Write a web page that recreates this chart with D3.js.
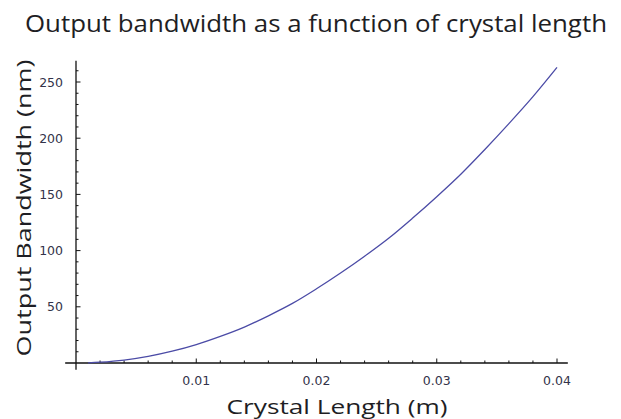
<!DOCTYPE html>
<html lang="en">
<head>
<meta charset="UTF-8">
<title>Output bandwidth as a function of crystal length</title>
<script src="https://d3js.org/d3.v7.min.js"></script>
<style>
    body, html { margin: 0; background: #fff; }
    text { font-family: 'Open Sans', sans-serif; fill: #1e1e24; }
    .tick-label { font-family: 'DejaVu Sans', sans-serif; font-size: 12.5px; fill: #33334a; }
</style>
</head>
<body>
<svg id="chart" width="621" height="419"></svg>
<script>
    // values
    const crystalLength = [0.001, 0.002, 0.004, 0.006, 0.008, 0.010, 0.012, 0.014, 0.016, 0.018, 0.020,
                           0.022, 0.024, 0.026, 0.028, 0.030, 0.032, 0.034, 0.036, 0.038, 0.040];
    const bandwidth = [0.2, 0.7, 2.6, 5.9, 10.5, 16.4, 23.7, 32, 42, 53, 66,
                       80, 95, 111, 129, 148, 168, 190, 213, 237, 263];
    const xTicks = [0.01, 0.02, 0.03, 0.04];
    const yTicks = [50, 100, 150, 200, 250];

    const svg = d3.select("#chart");

    // pixel frame: x=0 at 76px, 0.04 at 557px; y=0 at 363px, 250 at 82px
    const x = d3.scaleLinear().domain([0, 0.04]).range([76, 557]);
    const y = d3.scaleLinear().domain([0, 250]).range([363, 82]);

    const xMinor = d3.range(0.002, 0.0401, 0.002).filter(v => Math.abs(v * 100 - Math.round(v * 100)) > 1e-6);
    const yMinor = d3.range(10, 261, 10).filter(v => v % 50 !== 0);

    // axes lines (crossing at origin)
    svg.append("line")
        .attr("x1", x(-0.0009)).attr("x2", x(0.0409))
        .attr("y1", y(0)).attr("y2", y(0))
        .attr("stroke", "#111").attr("stroke-width", 1.3);
    svg.append("line")
        .attr("x1", x(0)).attr("x2", x(0))
        .attr("y1", y(-6)).attr("y2", y(269))
        .attr("stroke", "#111").attr("stroke-width", 1.3);

    // x ticks
    svg.selectAll(".xmajor").data(xTicks).enter().append("line")
        .attr("x1", d => x(d)).attr("x2", d => x(d))
        .attr("y1", y(0)).attr("y2", y(0) - 4.5)
        .attr("stroke", "#111").attr("stroke-width", 1);
    svg.selectAll(".xminor").data(xMinor).enter().append("line")
        .attr("x1", d => x(d)).attr("x2", d => x(d))
        .attr("y1", y(0)).attr("y2", y(0) - 2.5)
        .attr("stroke", "#111").attr("stroke-width", 1);
    svg.selectAll(".xlabel").data(xTicks).enter().append("text")
        .attr("class", "tick-label")
        .attr("x", d => x(d)).attr("y", y(0) + 22)
        .attr("text-anchor", "middle")
        .text(d => d3.format(".2f")(d));

    // y ticks
    svg.selectAll(".ymajor").data(yTicks).enter().append("line")
        .attr("x1", x(0)).attr("x2", x(0) + 4.5)
        .attr("y1", d => y(d)).attr("y2", d => y(d))
        .attr("stroke", "#111").attr("stroke-width", 1);
    svg.selectAll(".yminor").data(yMinor).enter().append("line")
        .attr("x1", x(0)).attr("x2", x(0) + 2.5)
        .attr("y1", d => y(d)).attr("y2", d => y(d))
        .attr("stroke", "#111").attr("stroke-width", 1);
    svg.selectAll(".ylabel").data(yTicks).enter().append("text")
        .attr("class", "tick-label")
        .attr("x", x(0) - 13).attr("y", d => y(d) + 4.5)
        .attr("text-anchor", "end")
        .text(d => d);

    // curve
    const pts = crystalLength.map((c, i) => [c, bandwidth[i]]);
    svg.append("path")
        .datum(pts)
        .attr("fill", "none")
        .attr("stroke", "#4b4ba6")
        .attr("stroke-width", 1.3)
        .attr("d", d3.line().x(d => x(d[0])).y(d => y(d[1])).curve(d3.curveCatmullRom));

    // titles
    svg.append("text")
        .attr("x", 316).attr("y", 32)
        .attr("text-anchor", "middle")
        .attr("font-size", 23)
        .attr("textLength", 582).attr("lengthAdjust", "spacingAndGlyphs")
        .text("Output bandwidth as a function of crystal length");

    svg.append("text")
        .attr("x", 337).attr("y", 414)
        .attr("text-anchor", "middle")
        .attr("font-size", 20)
        .attr("textLength", 221).attr("lengthAdjust", "spacingAndGlyphs")
        .text("Crystal Length (m)");

    svg.append("text")
        .attr("transform", "translate(31,208) rotate(-90)")
        .attr("text-anchor", "middle")
        .attr("font-size", 20)
        .attr("textLength", 297).attr("lengthAdjust", "spacingAndGlyphs")
        .text("Output Bandwidth (nm)");
</script>
</body>
</html>
